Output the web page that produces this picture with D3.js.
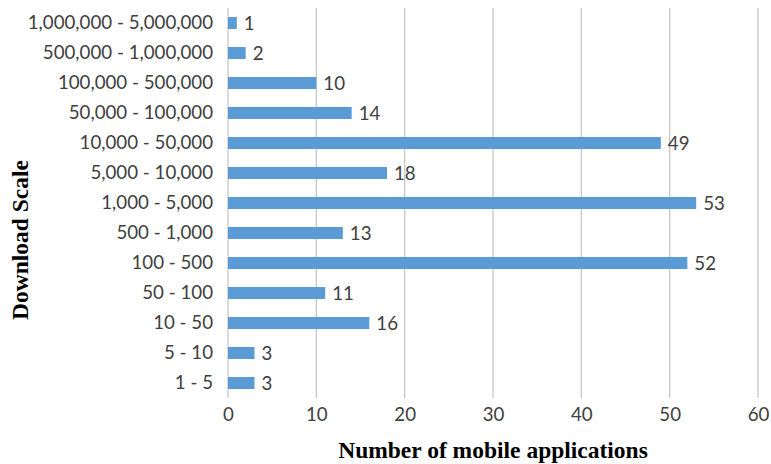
<!DOCTYPE html>
<html><head><meta charset="utf-8">
<script src="https://cdn.jsdelivr.net/npm/d3@7"></script>
<style>body{margin:0;background:#fff}svg{display:block}</style>
</head><body>
<svg id="chart" width="771" height="464"></svg>
<script>
const categories = ["1,000,000 - 5,000,000","500,000 - 1,000,000","100,000 - 500,000","50,000 - 100,000","10,000 - 50,000","5,000 - 10,000","1,000 - 5,000","500 - 1,000","100 - 500","50 - 100","10 - 50","5 - 10","1 - 5"];
const values = [1,2,10,14,49,18,53,13,52,11,16,3,3];
const xTicks = [0,10,20,30,40,50,60];

const svg = d3.select("#chart");
const m = {left:228, right:13, top:8, bottom:66};
const W = 771, H = 464;
const x = d3.scaleLinear().domain([0,60]).range([m.left, W-m.right]);
const y = d3.scaleBand().domain(categories).range([m.top, H-m.bottom]).paddingInner(0.6).paddingOuter(0.3);

const font = "Lato, 'Open Sans', sans-serif";
const fs = 18.7;
// gridlines
svg.append("g").selectAll("line").data(xTicks.slice(1)).join("line")
  .attr("x1", d=>x(d)).attr("x2", d=>x(d)).attr("y1", m.top).attr("y2", H-m.bottom)
  .attr("stroke","#c8c8c8").attr("stroke-width",1.3);
// y axis line
svg.append("line").attr("x1",x(0)).attr("x2",x(0)).attr("y1",m.top).attr("y2",H-m.bottom)
  .attr("stroke","#c8c8c8").attr("stroke-width",1.3);

// bars
svg.append("g").selectAll("rect").data(categories).join("rect")
  .attr("x", x(0)).attr("y", (d)=>y(d)).attr("height", y.bandwidth())
  .attr("width", (d,i)=>x(values[i])-x(0)).attr("fill","#5b9bd5");

// value labels
svg.append("g").selectAll("text").data(categories).join("text")
  .attr("x",(d,i)=>x(values[i])+7).attr("y",d=>y(d)+y.bandwidth()/2).attr("dy","0.36em")
  .attr("font-family",font).attr("font-size",fs).attr("fill","#404040")
  .text((d,i)=>values[i]);

// y tick labels
const yAxis = d3.axisLeft(y).tickSize(0).tickPadding(15);
const gy = svg.append("g").attr("transform",`translate(${x(0)},0)`).call(yAxis);
gy.select(".domain").remove();
gy.selectAll("text").attr("font-family",font).attr("font-size",fs).attr("fill","#404040");

// x tick labels
const xAxis = d3.axisBottom(x).tickValues(xTicks).tickSize(0).tickPadding(10);
const gx = svg.append("g").attr("transform",`translate(0,${H-m.bottom})`).call(xAxis);
gx.select(".domain").remove();
gx.selectAll("text").attr("font-family",font).attr("font-size",fs).attr("fill","#404040");

// titles
svg.append("text").attr("x",493).attr("y",458).attr("text-anchor","middle")
  .attr("font-family","'Liberation Serif', 'Times New Roman', serif").attr("font-weight","bold")
  .attr("font-size",23.5).attr("fill","#000").text("Number of mobile applications");
svg.append("text").attr("transform","translate(28,240) rotate(-90)").attr("text-anchor","middle")
  .attr("font-family","'Liberation Serif', 'Times New Roman', serif").attr("font-weight","bold")
  .attr("font-size",23.5).attr("fill","#000").text("Download Scale");
</script>
</body></html>
